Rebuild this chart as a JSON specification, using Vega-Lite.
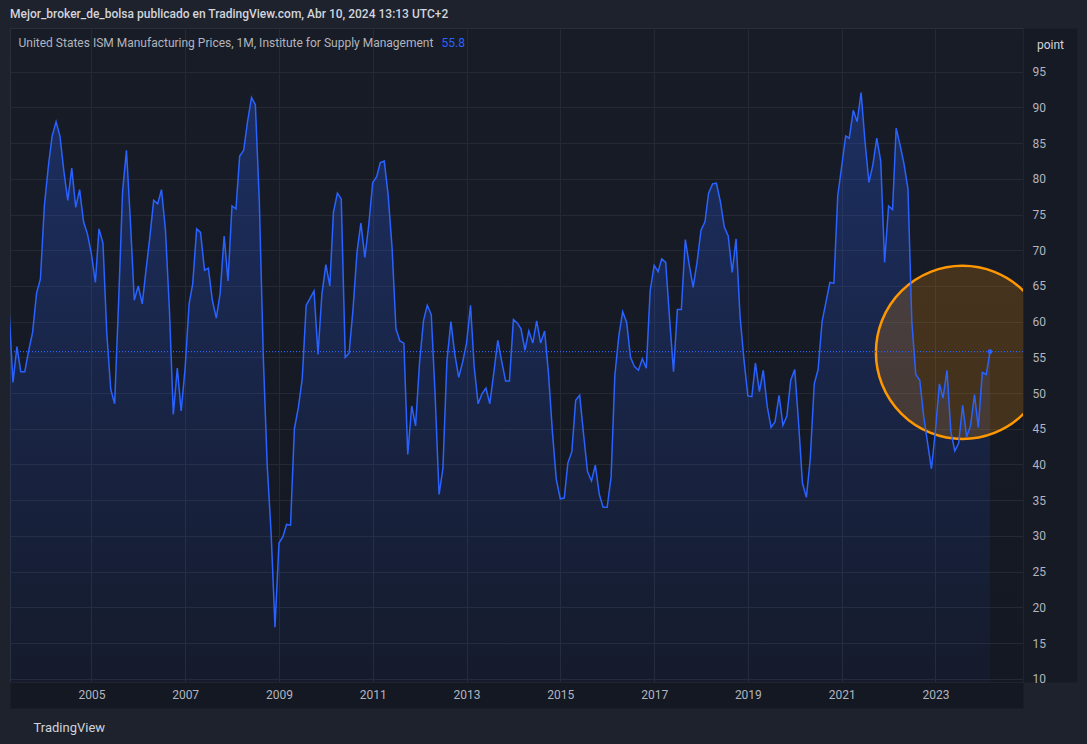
{
  "$schema": "https://vega.github.io/schema/vega-lite/v6.json",
  "width": 1013,
  "height": 654,
  "autosize": {"type": "none"},
  "padding": {"left": 10, "top": 28, "right": 64, "bottom": 62},
  "background": "#1e222d",
  "config": {
    "view": {"fill": {"gradient": "linear", "x1": 0, "y1": 0, "x2": 0, "y2": 1, "stops": [{"offset": 0, "color": "#181c27"}, {"offset": 1, "color": "#141823"}]}, "stroke": "#2a2e39", "strokeWidth": 1},
    "font": "Roboto"
  },
  "title": {
    "text": "Mejor_broker_de_bolsa publicado en TradingView.com, Abr 10, 2024 13:13 UTC+2",
    "anchor": "start",
    "frame": "group",
    "offset": 7,
    "font": "Roboto",
    "fontSize": 12,
    "fontWeight": 500,
    "color": "#d1d4dc"
  },
  "datasets": {
    "ism": [
      {"date":"2003-04-01","value":61.5},{"date":"2003-05-01","value":51.5},{"date":"2003-06-01","value":56.5},{"date":"2003-07-01","value":53.0},{"date":"2003-08-01","value":53.0},{"date":"2003-09-01","value":56.0},{"date":"2003-10-01","value":58.5},{"date":"2003-11-01","value":64.0},{"date":"2003-12-01","value":66.0},
      {"date":"2004-01-01","value":76.3},{"date":"2004-02-01","value":81.8},{"date":"2004-03-01","value":86.0},{"date":"2004-04-01","value":88.0},{"date":"2004-05-01","value":86.0},{"date":"2004-06-01","value":81.0},{"date":"2004-07-01","value":77.0},{"date":"2004-08-01","value":81.5},{"date":"2004-09-01","value":76.0},{"date":"2004-10-01","value":78.5},{"date":"2004-11-01","value":74.0},{"date":"2004-12-01","value":72.3},
      {"date":"2005-01-01","value":69.5},{"date":"2005-02-01","value":65.5},{"date":"2005-03-01","value":73.0},{"date":"2005-04-01","value":71.0},{"date":"2005-05-01","value":58.3},{"date":"2005-06-01","value":50.5},{"date":"2005-07-01","value":48.5},{"date":"2005-08-01","value":62.8},{"date":"2005-09-01","value":78.3},{"date":"2005-10-01","value":84.0},{"date":"2005-11-01","value":74.0},{"date":"2005-12-01","value":63.0},
      {"date":"2006-01-01","value":65.0},{"date":"2006-02-01","value":62.5},{"date":"2006-03-01","value":67.0},{"date":"2006-04-01","value":71.8},{"date":"2006-05-01","value":77.0},{"date":"2006-06-01","value":76.5},{"date":"2006-07-01","value":78.5},{"date":"2006-08-01","value":72.8},{"date":"2006-09-01","value":61.5},{"date":"2006-10-01","value":47.0},{"date":"2006-11-01","value":53.5},{"date":"2006-12-01","value":47.5},
      {"date":"2007-01-01","value":53.5},{"date":"2007-02-01","value":62.5},{"date":"2007-03-01","value":65.3},{"date":"2007-04-01","value":73.0},{"date":"2007-05-01","value":72.5},{"date":"2007-06-01","value":67.2},{"date":"2007-07-01","value":67.5},{"date":"2007-08-01","value":63.0},{"date":"2007-09-01","value":60.5},{"date":"2007-10-01","value":64.0},{"date":"2007-11-01","value":72.0},{"date":"2007-12-01","value":65.7},
      {"date":"2008-01-01","value":76.2},{"date":"2008-02-01","value":75.8},{"date":"2008-03-01","value":83.2},{"date":"2008-04-01","value":84.0},{"date":"2008-05-01","value":88.0},{"date":"2008-06-01","value":91.4},{"date":"2008-07-01","value":90.4},{"date":"2008-08-01","value":76.8},{"date":"2008-09-01","value":55.0},{"date":"2008-10-01","value":40.0},{"date":"2008-11-01","value":30.3},{"date":"2008-12-01","value":17.2},
      {"date":"2009-01-01","value":29.0},{"date":"2009-02-01","value":29.9},{"date":"2009-03-01","value":31.6},{"date":"2009-04-01","value":31.5},{"date":"2009-05-01","value":45.0},{"date":"2009-06-01","value":48.0},{"date":"2009-07-01","value":52.0},{"date":"2009-08-01","value":62.3},{"date":"2009-09-01","value":63.3},{"date":"2009-10-01","value":64.3},{"date":"2009-11-01","value":55.4},{"date":"2009-12-01","value":63.8},
      {"date":"2010-01-01","value":68.0},{"date":"2010-02-01","value":65.0},{"date":"2010-03-01","value":75.3},{"date":"2010-04-01","value":78.0},{"date":"2010-05-01","value":77.2},{"date":"2010-06-01","value":55.0},{"date":"2010-07-01","value":55.6},{"date":"2010-08-01","value":61.8},{"date":"2010-09-01","value":69.8},{"date":"2010-10-01","value":73.8},{"date":"2010-11-01","value":69.0},{"date":"2010-12-01","value":73.5},
      {"date":"2011-01-01","value":79.5},{"date":"2011-02-01","value":80.3},{"date":"2011-03-01","value":82.3},{"date":"2011-04-01","value":82.5},{"date":"2011-05-01","value":77.8},{"date":"2011-06-01","value":70.3},{"date":"2011-07-01","value":59.0},{"date":"2011-08-01","value":57.3},{"date":"2011-09-01","value":57.0},{"date":"2011-10-01","value":41.4},{"date":"2011-11-01","value":48.2},{"date":"2011-12-01","value":45.4},
      {"date":"2012-01-01","value":54.3},{"date":"2012-02-01","value":60.2},{"date":"2012-03-01","value":62.3},{"date":"2012-04-01","value":61.0},{"date":"2012-05-01","value":49.8},{"date":"2012-06-01","value":35.8},{"date":"2012-07-01","value":39.5},{"date":"2012-08-01","value":54.5},{"date":"2012-09-01","value":60.0},{"date":"2012-10-01","value":55.5},{"date":"2012-11-01","value":52.2},{"date":"2012-12-01","value":54.3},
      {"date":"2013-01-01","value":57.0},{"date":"2013-02-01","value":62.3},{"date":"2013-03-01","value":53.8},{"date":"2013-04-01","value":48.5},{"date":"2013-05-01","value":49.9},{"date":"2013-06-01","value":50.7},{"date":"2013-07-01","value":48.5},{"date":"2013-08-01","value":52.8},{"date":"2013-09-01","value":57.4},{"date":"2013-10-01","value":54.5},{"date":"2013-11-01","value":51.7},{"date":"2013-12-01","value":51.7},
      {"date":"2014-01-01","value":60.3},{"date":"2014-02-01","value":59.8},{"date":"2014-03-01","value":59.0},{"date":"2014-04-01","value":56.0},{"date":"2014-05-01","value":58.7},{"date":"2014-06-01","value":57.0},{"date":"2014-07-01","value":60.1},{"date":"2014-08-01","value":57.0},{"date":"2014-09-01","value":58.7},{"date":"2014-10-01","value":52.8},{"date":"2014-11-01","value":44.5},{"date":"2014-12-01","value":37.9},
      {"date":"2015-01-01","value":35.2},{"date":"2015-02-01","value":35.3},{"date":"2015-03-01","value":40.2},{"date":"2015-04-01","value":41.8},{"date":"2015-05-01","value":49.0},{"date":"2015-06-01","value":49.7},{"date":"2015-07-01","value":44.3},{"date":"2015-08-01","value":39.0},{"date":"2015-09-01","value":37.7},{"date":"2015-10-01","value":39.9},{"date":"2015-11-01","value":35.8},{"date":"2015-12-01","value":34.0},
      {"date":"2016-01-01","value":34.0},{"date":"2016-02-01","value":38.3},{"date":"2016-03-01","value":52.5},{"date":"2016-04-01","value":58.0},{"date":"2016-05-01","value":61.4},{"date":"2016-06-01","value":59.9},{"date":"2016-07-01","value":55.0},{"date":"2016-08-01","value":53.7},{"date":"2016-09-01","value":53.2},{"date":"2016-10-01","value":54.8},{"date":"2016-11-01","value":53.5},{"date":"2016-12-01","value":64.3},
      {"date":"2017-01-01","value":67.9},{"date":"2017-02-01","value":67.0},{"date":"2017-03-01","value":68.8},{"date":"2017-04-01","value":68.3},{"date":"2017-05-01","value":60.5},{"date":"2017-06-01","value":53.0},{"date":"2017-07-01","value":61.7},{"date":"2017-08-01","value":61.7},{"date":"2017-09-01","value":71.5},{"date":"2017-10-01","value":68.0},{"date":"2017-11-01","value":64.8},{"date":"2017-12-01","value":68.3},
      {"date":"2018-01-01","value":72.8},{"date":"2018-02-01","value":74.0},{"date":"2018-03-01","value":78.0},{"date":"2018-04-01","value":79.3},{"date":"2018-05-01","value":79.4},{"date":"2018-06-01","value":76.8},{"date":"2018-07-01","value":73.3},{"date":"2018-08-01","value":72.0},{"date":"2018-09-01","value":66.9},{"date":"2018-10-01","value":71.6},{"date":"2018-11-01","value":60.8},{"date":"2018-12-01","value":54.8},
      {"date":"2019-01-01","value":49.6},{"date":"2019-02-01","value":49.5},{"date":"2019-03-01","value":54.2},{"date":"2019-04-01","value":50.2},{"date":"2019-05-01","value":53.2},{"date":"2019-06-01","value":48.1},{"date":"2019-07-01","value":45.2},{"date":"2019-08-01","value":46.0},{"date":"2019-09-01","value":49.7},{"date":"2019-10-01","value":45.5},{"date":"2019-11-01","value":46.8},{"date":"2019-12-01","value":51.8},
      {"date":"2020-01-01","value":53.3},{"date":"2020-02-01","value":45.6},{"date":"2020-03-01","value":37.4},{"date":"2020-04-01","value":35.4},{"date":"2020-05-01","value":40.8},{"date":"2020-06-01","value":51.3},{"date":"2020-07-01","value":53.3},{"date":"2020-08-01","value":60.0},{"date":"2020-09-01","value":62.8},{"date":"2020-10-01","value":65.5},{"date":"2020-11-01","value":65.4},{"date":"2020-12-01","value":77.6},
      {"date":"2021-01-01","value":81.8},{"date":"2021-02-01","value":86.0},{"date":"2021-03-01","value":85.7},{"date":"2021-04-01","value":89.6},{"date":"2021-05-01","value":88.0},{"date":"2021-06-01","value":92.1},{"date":"2021-07-01","value":85.3},{"date":"2021-08-01","value":79.5},{"date":"2021-09-01","value":82.0},{"date":"2021-10-01","value":85.7},{"date":"2021-11-01","value":82.5},{"date":"2021-12-01","value":68.3},
      {"date":"2022-01-01","value":76.2},{"date":"2022-02-01","value":75.7},{"date":"2022-03-01","value":87.1},{"date":"2022-04-01","value":84.7},{"date":"2022-05-01","value":82.1},{"date":"2022-06-01","value":78.6},{"date":"2022-07-01","value":60.0},{"date":"2022-08-01","value":52.6},{"date":"2022-09-01","value":51.8},{"date":"2022-10-01","value":46.8},{"date":"2022-11-01","value":43.0},{"date":"2022-12-01","value":39.4},
      {"date":"2023-01-01","value":44.8},{"date":"2023-02-01","value":51.3},{"date":"2023-03-01","value":49.3},{"date":"2023-04-01","value":53.2},{"date":"2023-05-01","value":44.6},{"date":"2023-06-01","value":41.9},{"date":"2023-07-01","value":43.0},{"date":"2023-08-01","value":48.3},{"date":"2023-09-01","value":43.9},{"date":"2023-10-01","value":45.4},{"date":"2023-11-01","value":49.8},{"date":"2023-12-01","value":45.2},
      {"date":"2024-01-01","value":52.9},{"date":"2024-02-01","value":52.6},{"date":"2024-03-01","value":55.8}
    ],
    "note": [{"date":"2023-07-31","value":55.7}]
  },
  "encoding": {
    "x": {
      "field": "date", "type": "temporal",
      "scale": {"type": "utc", "domain": [{"year": 2003, "month": 4, "date": 8, "utc": true}, {"year": 2024, "month": 11, "date": 13, "utc": true}]},
      "axis": null
    },
    "y": {
      "field": "value", "type": "quantitative",
      "scale": {"domain": [9.54, 101.13], "zero": false, "nice": false},
      "axis": null
    }
  },
  "resolve": {"axis": {"x": "independent", "y": "independent"}},
  "layer": [
    {
      "data": {"name": "ism"},
      "mark": {"type": "area", "clip": true, "line": false,
        "fill": {"gradient": "linear", "x1": 0, "y1": 0, "x2": 0, "y2": 1, "stops": [{"offset": 0, "color": "rgba(41,98,255,0.27)"}, {"offset": 1, "color": "rgba(41,98,255,0.04)"}]}},
      "encoding": {
        "x": {
          "field": "date", "type": "temporal",
          "scale": {"type": "utc", "domain": [{"year": 2003, "month": 4, "date": 8, "utc": true}, {"year": 2024, "month": 11, "date": 13, "utc": true}]},
          "axis": {
            "orient": "bottom", "zindex": 0,
            "values": [{"year":2005,"utc":true},{"year":2007,"utc":true},{"year":2009,"utc":true},{"year":2011,"utc":true},{"year":2013,"utc":true},{"year":2015,"utc":true},{"year":2017,"utc":true},{"year":2019,"utc":true},{"year":2021,"utc":true},{"year":2023,"utc":true}],
            "grid": true, "gridColor": "#252934", "gridWidth": 1,
            "ticks": false, "tickSize": 0, "labels": false,
            "domain": true, "domainColor": "#141823", "domainWidth": 26, "offset": 13,
            "title": "55.8", "titleX": 431, "titleY": -653, "titleAlign": "left", "titleBaseline": "middle", "titleAngle": 0,
            "titleColor": "#2962ff", "titleFont": "Roboto", "titleFontSize": 12, "titleFontWeight": "normal"
          }
        },
        "y": {
          "field": "value", "type": "quantitative",
          "scale": {"domain": [9.54, 101.13], "zero": false, "nice": false},
          "axis": {
            "orient": "right", "zindex": 0,
            "values": [10,15,20,25,30,35,40,45,50,55,60,65,70,75,80,85,90,95],
            "grid": true, "gridColor": "#252934", "gridWidth": 1,
            "ticks": false, "tickSize": 0, "labels": false,
            "domain": true, "domainColor": "#161a25", "domainWidth": 54, "offset": 27,
            "title": "point", "titleAngle": 0, "titleX": 0, "titleY": 16, "titleAlign": "center", "titleBaseline": "middle",
            "titleColor": "#d1d4dc", "titleFont": "Roboto", "titleFontSize": 12, "titleFontWeight": "normal"
          }
        },
        "y2": {"datum": 9.54}
      }
    },
    {
      "data": {"name": "note"},
      "mark": {"type": "point", "shape": "circle", "size": 30000, "clip": true, "opacity": 1, "fill": "#ff9800", "fillOpacity": 0.2, "stroke": "#ff9800", "strokeWidth": 2.5, "strokeOpacity": 1}
    },
    {
      "data": {"name": "ism"},
      "mark": {"type": "line", "clip": true, "color": "#2962ff", "strokeWidth": 1.5},
      "encoding": {
        "x": {
          "field": "date", "type": "temporal",
          "scale": {"type": "utc", "domain": [{"year": 2003, "month": 4, "date": 8, "utc": true}, {"year": 2024, "month": 11, "date": 13, "utc": true}]},
          "axis": {
            "orient": "bottom", "zindex": 1,
            "values": [{"year":2005,"utc":true},{"year":2007,"utc":true},{"year":2009,"utc":true},{"year":2011,"utc":true},{"year":2013,"utc":true},{"year":2015,"utc":true},{"year":2017,"utc":true},{"year":2019,"utc":true},{"year":2021,"utc":true},{"year":2023,"utc":true}],
            "format": "%Y",
            "grid": false, "ticks": false, "tickSize": 0, "domain": false, "offset": 13,
            "labelPadding": -1, "labelBaseline": "middle", "labelFlush": false,
            "labelColor": "#b2b5be", "labelFont": "Roboto", "labelFontSize": 12,
            "title": "TradingView", "titleX": 23, "titleY": 32, "titleAlign": "left", "titleBaseline": "middle",
            "titleColor": "#d1d4dc", "titleFont": "Roboto", "titleFontSize": 13, "titleFontWeight": "normal"
          }
        },
        "y": {
          "field": "value", "type": "quantitative",
          "scale": {"domain": [9.54, 101.13], "zero": false, "nice": false},
          "axis": {
            "orient": "right", "zindex": 1,
            "values": [10,15,20,25,30,35,40,45,50,55,60,65,70,75,80,85,90,95],
            "grid": false, "ticks": false, "tickSize": 0, "domain": false, "offset": 27,
            "labelAlign": "left", "labelPadding": -18, "labelBaseline": "middle",
            "labelColor": "#b2b5be", "labelFont": "Roboto", "labelFontSize": 12,
            "title": "United States ISM Manufacturing Prices, 1M, Institute for Supply Management", "titleAngle": 0, "titleX": -1032, "titleY": 14, "titleAlign": "left", "titleBaseline": "middle",
            "titleColor": "#b2b5be", "titleFont": "Roboto", "titleFontSize": 12, "titleFontWeight": "normal"
          }
        }
      }
    },
    {
      "data": {"name": "ism"},
      "transform": [{"filter": "utcyear(toDate(datum.date)) == 2024 && utcmonth(toDate(datum.date)) == 2"}],
      "mark": {"type": "rule", "color": "#2962ff", "strokeWidth": 1.2, "strokeDash": [1, 2]},
      "encoding": {"x": null, "y": {"field": "value", "type": "quantitative", "axis": null}}
    },
    {
      "data": {"name": "ism"},
      "transform": [{"filter": "utcyear(toDate(datum.date)) == 2024 && utcmonth(toDate(datum.date)) == 2"}],
      "mark": {"type": "point", "shape": "circle", "filled": true, "size": 22, "opacity": 1, "color": "#2962ff"}
    }
  ]
}
